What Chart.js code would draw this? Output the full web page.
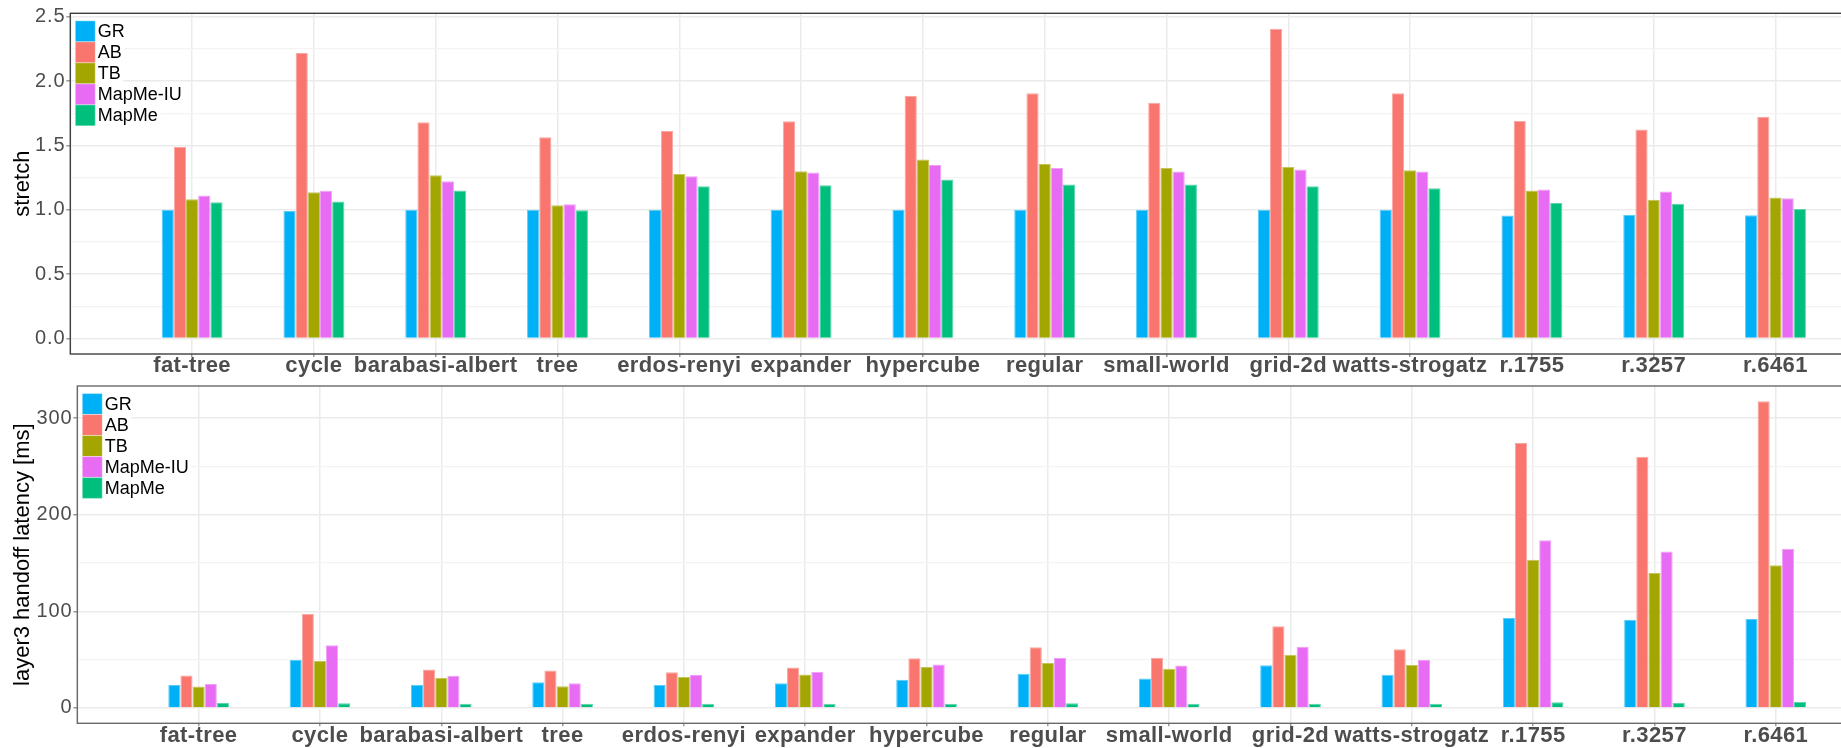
<!DOCTYPE html>
<html>
<head>
<meta charset="utf-8">
<script src="https://cdn.jsdelivr.net/npm/chart.js@4.4.1/dist/chart.umd.min.js"></script>
<style>
  html, body { margin: 0; padding: 0; background: #ffffff; overflow: hidden; width: 1841px; height: 748px; }
  canvas { position: absolute; left: 0; }
  #stretchChart { top: 0; }
  #latencyChart { top: 375px; }
</style>
</head>
<body>
<canvas id="stretchChart" width="1851" height="380"></canvas>
<canvas id="latencyChart" width="1851" height="373"></canvas>
<script>
// Topologies on the x axis
const categories = ['fat-tree', 'cycle', 'barabasi-albert', 'tree', 'erdos-renyi', 'expander',
  'hypercube', 'regular', 'small-world', 'grid-2d', 'watts-strogatz', 'r.1755', 'r.3257', 'r.6461'];

const seriesNames = ['GR', 'AB', 'TB', 'MapMe-IU', 'MapMe'];
const seriesColors = ['#00B0F6', '#F8766D', '#A3A500', '#E76BF3', '#00BF7D'];

// Path stretch per topology
const stretchGR    = [1.00, 0.99, 1.00, 1.00, 1.00, 1.00, 1.00, 1.00, 1.00, 1.00, 1.00, 0.955, 0.96, 0.957];
const stretchAB    = [1.488, 2.218, 1.680, 1.563, 1.612, 1.688, 1.886, 1.906, 1.831, 2.406, 1.906, 1.690, 1.623, 1.722];
const stretchTB    = [1.082, 1.137, 1.269, 1.035, 1.277, 1.300, 1.391, 1.355, 1.324, 1.332, 1.308, 1.150, 1.077, 1.095];
const stretchIU    = [1.110, 1.147, 1.222, 1.043, 1.261, 1.290, 1.347, 1.324, 1.298, 1.313, 1.298, 1.157, 1.142, 1.090];
const stretchMapMe = [1.059, 1.064, 1.150, 0.996, 1.183, 1.191, 1.235, 1.196, 1.196, 1.183, 1.168, 1.053, 1.046, 1.006];

// Layer-3 handoff latency per topology, in ms
const latencyGR    = [23.8, 49.7, 24.1, 26.5, 23.8, 25.5, 29.3, 35.4, 30.6, 44.2, 34.4, 93.0, 91.2, 92.2];
const latencyAB    = [33.7, 97.6, 39.8, 38.8, 37.1, 41.8, 51.4, 62.9, 52.0, 84.7, 60.9, 274.3, 260.0, 317.4];
const latencyTB    = [22.1, 48.6, 31.3, 22.4, 32.0, 34.7, 42.5, 46.6, 40.5, 55.1, 44.6, 153.4, 139.7, 147.6];
const latencyIU    = [24.8, 65.0, 33.3, 25.5, 34.4, 37.4, 44.9, 51.7, 43.9, 63.3, 49.7, 173.6, 161.9, 164.7];
const latencyMapMe = [5.1, 4.8, 4.4, 4.4, 4.4, 4.4, 4.4, 4.8, 4.4, 4.4, 4.4, 5.8, 5.1, 6.1];

// Labelled y ticks
const stretchTicks = [0, 0.5, 1.0, 1.5, 2.0, 2.5];
const latencyTicks = [0, 100, 200, 300];

const FONT = '"Liberation Sans", Arial, Helvetica, sans-serif';

function lighten(hex, amt) {
  const n = parseInt(hex.slice(1), 16);
  const r = (n >> 16) & 255, g = (n >> 8) & 255, b = n & 255;
  const m = c => Math.round(c + (255 - c) * amt);
  return 'rgb(' + m(r) + ',' + m(g) + ',' + m(b) + ')';
}

// Major ticks plus the minor lines halfway between them
function withMinor(major) {
  const out = [];
  major.forEach((v, i) => {
    out.push(v);
    if (i < major.length - 1) out.push((v + major[i + 1]) / 2);
  });
  return out;
}

function makeDatasets(seriesList) {
  return seriesList.map((vals, i) => ({
    label: seriesNames[i],
    data: vals.map((v, k) => ({ x: k + 1, y: v })),
    backgroundColor: seriesColors[i],
    borderColor: lighten(seriesColors[i], 0.35),
    borderWidth: 1,
    borderSkipped: 'start',
    categoryPercentage: 0.5,
    barPercentage: 1.0
  }));
}

// Panel frame drawn over the bars
const panelFrame = {
  id: 'panelFrame',
  afterDatasetsDraw(chart, args, opts) {
    const { ctx, chartArea: a } = chart;
    ctx.save();
    ctx.strokeStyle = opts.color || '#444';
    ctx.lineWidth = opts.width || 1.4;
    ctx.strokeRect(a.left, a.top, a.right - a.left + 20, a.bottom - a.top);
    ctx.restore();
  }
};

// Slightly tracked-out tick labels
const spacedTickLabels = {
  id: 'spacedTickLabels',
  afterLayout(chart) {
    Object.values(chart.scales).forEach(s => {
      if (s._spaced) return;
      const orig = s.drawLabels;
      const spacing = s.axis === 'x' ? '0.4px' : '0.8px';
      s.drawLabels = function (area) {
        const c = this.ctx;
        c.save();
        c.letterSpacing = spacing;
        orig.call(this, area);
        c.restore();
      };
      s._spaced = true;
    });
  }
};

// Legend stacked in the top-left corner of the panel
const insetLegend = {
  id: 'insetLegend',
  afterDraw(chart) {
    const { ctx, chartArea: a } = chart;
    const x0 = a.left + 5, y0 = a.top + 7.5, row = 21, box = 20;
    ctx.save();
    ctx.font = '18px ' + FONT;
    ctx.textBaseline = 'middle';
    ctx.textAlign = 'left';
    chart.data.datasets.forEach((ds, i) => {
      const y = y0 + i * row;
      const w = ctx.measureText(ds.label).width;
      ctx.fillStyle = '#ffffff';
      ctx.fillRect(x0, y, box + 3 + w + 2, row);
      ctx.fillStyle = ds.borderColor;
      ctx.fillRect(x0, y, box, row);
      ctx.fillStyle = ds.backgroundColor;
      ctx.fillRect(x0 + 0.6, y + 0.6, box - 1.2, row - 1.2);
      ctx.fillStyle = '#000000';
      ctx.fillText(ds.label, x0 + box + 2.5, y + row / 2 + 1);
    });
    ctx.restore();
  }
};

function makeChart(id, seriesList, cfg) {
  const isMajor = v => cfg.ticks.some(t => Math.abs(t - v) < 1e-9);
  const yGrid = withMinor(cfg.ticks);
  const xGrid = [0].concat(categories.map((c, i) => i + 1));
  return new Chart(document.getElementById(id), {
    type: 'bar',
    data: { datasets: makeDatasets(seriesList) },
    plugins: [panelFrame, insetLegend, spacedTickLabels],
    options: {
      responsive: false,
      animation: false,
      devicePixelRatio: 1,
      layout: { padding: { top: cfg.padTop, left: 0, right: 0, bottom: 0 } },
      plugins: {
        legend: { display: false },
        tooltip: { enabled: false },
        panelFrame: { color: cfg.frameColor, width: 1.4 }
      },
      scales: {
        x: {
          type: 'linear',
          min: 0,
          max: 14.62,
          offset: false,
          grid: {
            offset: false,
            color: '#EBEBEB',
            lineWidth: 1.5,
            tickLength: 3,
            tickColor: ctx => (ctx.tick && ctx.tick.value > 0 ? '#9a9a9a' : 'rgba(0,0,0,0)')
          },
          border: { display: false },
          ticks: {
            autoSkip: false,
            maxRotation: 0,
            minRotation: 0,
            padding: -1.6,
            color: '#4D4D4D',
            font: { family: FONT, size: 22, weight: 'bold', lineHeight: 1 },
            callback: v => (Number.isInteger(v) && v >= 1 && v <= categories.length ? categories[v - 1] : '')
          },
          afterBuildTicks: s => { s.ticks = xGrid.map(v => ({ value: v })); },
          afterFit: s => { s.height = cfg.xHeight; }
        },
        y: {
          type: 'linear',
          min: cfg.min,
          max: cfg.max,
          grid: {
            color: ctx => (ctx.tick && isMajor(ctx.tick.value) ? '#EBEBEB' : '#F4F4F4'),
            lineWidth: ctx => (ctx.tick && isMajor(ctx.tick.value) ? 1.5 : 1.2),
            tickLength: 4,
            tickColor: ctx => (ctx.tick && isMajor(ctx.tick.value) ? '#9a9a9a' : 'rgba(0,0,0,0)')
          },
          border: { display: false },
          ticks: {
            autoSkip: false,
            padding: 1,
            color: '#4D4D4D',
            font: { family: FONT, size: 20, lineHeight: 1 },
            callback: v => (isMajor(v) ? cfg.fmt(v) : '')
          },
          afterBuildTicks: s => { s.ticks = yGrid.map(v => ({ value: v })); },
          title: {
            display: true,
            text: cfg.title,
            color: '#000000',
            padding: { top: 12, bottom: 0 },
            font: { family: FONT, size: 22, lineHeight: 1 }
          },
          afterFit: s => { s.width = cfg.yWidth; }
        }
      }
    }
  });
}

makeChart('stretchChart', [stretchGR, stretchAB, stretchTB, stretchIU, stretchMapMe], {
  min: -0.1203, max: 2.5263, ticks: stretchTicks,
  fmt: v => v.toFixed(1), title: 'stretch',
  padTop: 13.3, xHeight: 26, yWidth: 70.3, frameColor: '#3f3f3f'
});

makeChart('latencyChart', [latencyGR, latencyAB, latencyTB, latencyIU, latencyMapMe], {
  min: -15.87, max: 333.27, ticks: latencyTicks,
  fmt: v => String(Math.round(v)), title: 'layer3 handoff latency [ms]',
  padTop: 8.3, xHeight: 24.7, yWidth: 77.3, frameColor: '#6a6a6a'
});
</script>
</body>
</html>
